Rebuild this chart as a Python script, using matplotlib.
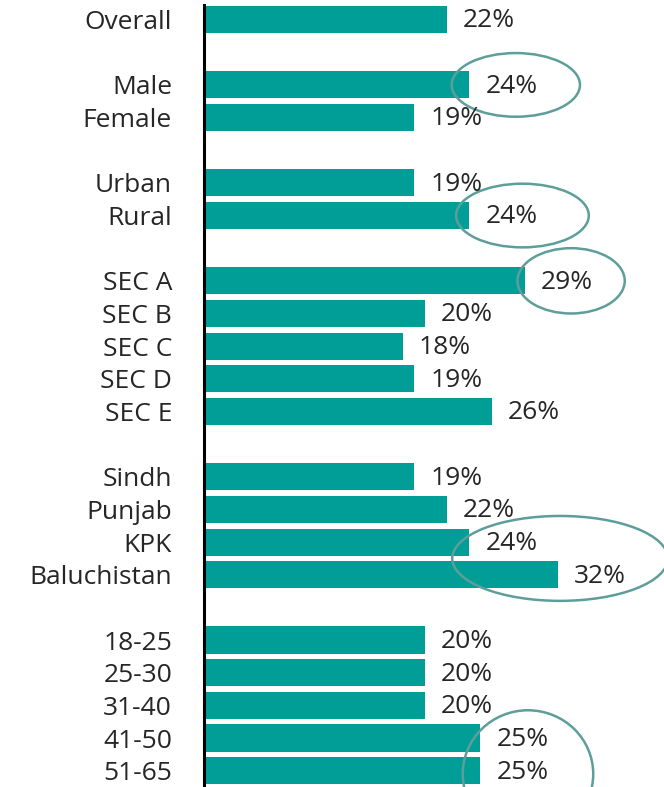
import matplotlib.pyplot as plt
from matplotlib.patches import Ellipse

# categories, blank entries are spacer rows between groups
categories = ["Overall", "",
              "Male", "Female", "",
              "Urban", "Rural", "",
              "SEC A", "SEC B", "SEC C", "SEC D", "SEC E", "",
              "Sindh", "Punjab", "KPK", "Baluchistan", "",
              "18-25", "25-30", "31-40", "41-50", "51-65"]
values = [22, None,
          24, 19, None,
          19, 24, None,
          29, 20, 18, 19, 26, None,
          19, 22, 24, 32, None,
          20, 20, 20, 25, 25]

# highlighted rows: (rows, x shift from max value, width, height in rows, y shift)
highlights = [(["Male"], 4.2, 11.6, 1.95, 0),
              (["Rural"], 4.8, 12.0, 1.95, 0),
              (["SEC A"], 4.2, 9.7, 2.0, 0),
              (["KPK", "Baluchistan"], 0.2, 19.5, 2.6, 0),
              (["41-50", "51-65"], 4.3, 11.8, 3.9, 0.6)]

bar_color = "#009E96"
ring_color = "#5E9E9A"
text_color = "#262626"
plt.rcParams['font.family'] = ['Open Sans', 'DejaVu Sans']

fig = plt.figure(figsize=(6.64, 7.87), dpi=100)
ax = fig.add_axes([204 / 664, 0, 460 / 664, 1])

pos = list(range(len(categories)))
for y, v in zip(pos, values):
    if v is None:
        continue
    ax.barh(y, v, height=0.83, color=bar_color)
    ax.annotate(f"{v}%", (v, y), xytext=(11.5, -1), textcoords="offset points",
                va="center", ha="left", fontsize=19, color=text_color)

for rows, dx, w, h, dy in highlights:
    idx = [categories.index(r) for r in rows]
    xc = max(values[i] for i in idx) + dx
    yc = sum(idx) / len(idx) + dy
    ax.add_patch(Ellipse((xc, yc), w, h, fill=False, edgecolor=ring_color,
                         lw=1.8, clip_on=False))

ax.set_xlim(0, 41.6)
ax.set_ylim(23.5, -0.6)
ax.set_yticks(pos)
ax.set_yticklabels(categories, fontsize=19, color=text_color)
ax.tick_params(axis="y", length=0, pad=23)
ax.set_xticks([])
for s in ["top", "right", "bottom"]:
    ax.spines[s].set_visible(False)
ax.spines["left"].set_linewidth(2.2)
ax.spines["left"].set_bounds(-0.45, 23.5)

fig.savefig("out.png", dpi=100)
